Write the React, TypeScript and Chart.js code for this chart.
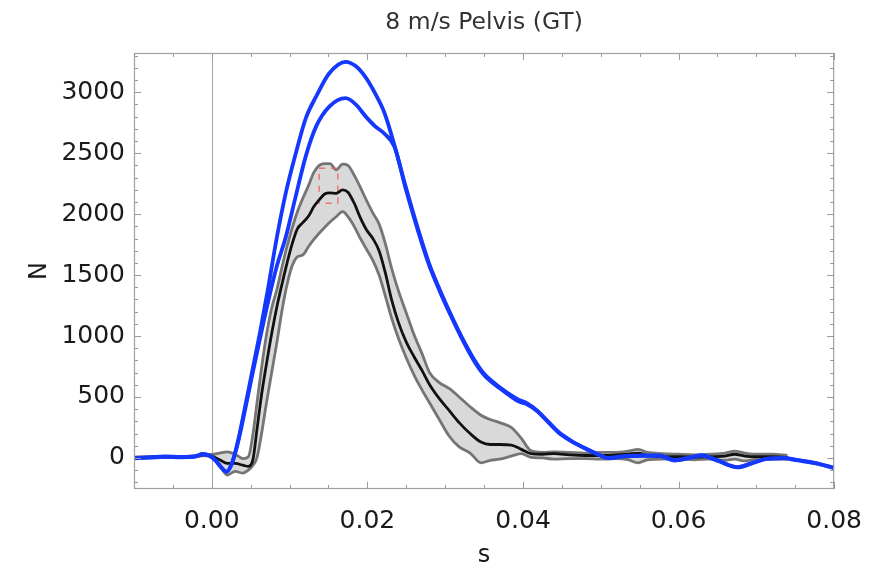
import React, { useEffect, useRef } from "react";
import { Chart, registerables } from "chart.js";

Chart.register(...registerables);

// ---- data ----
const chartTitle = "8 m/s Pelvis (GT)";
const xAxisTitle = "s";
const yAxisTitle = "N";

const xTickValues = [0, 0.02, 0.04, 0.06, 0.08];
const yTickValues = [0, 500, 1000, 1500, 2000, 2500, 3000];

// blue simulation curves
const blueTime = [
  -0.010, -0.008, -0.006, -0.004, -0.002, -0.0012, -0.0003, 0.0005, 0.0012, 0.0019,
  0.0026, 0.0033, 0.0040, 0.0051, 0.0062, 0.0072, 0.0083, 0.0095, 0.0108, 0.0121,
  0.0134, 0.0151, 0.0172, 0.0185, 0.0198, 0.0210, 0.0222, 0.0235, 0.0249, 0.0265,
  0.0279, 0.0293, 0.0307, 0.0321, 0.0336, 0.0350, 0.0365, 0.0380, 0.0395, 0.0405,
  0.0418, 0.0432, 0.0446, 0.0462, 0.0478, 0.0495, 0.0510, 0.0530, 0.0552, 0.0575,
  0.0595, 0.0612, 0.0629, 0.0650, 0.0676, 0.0695, 0.0714, 0.0735, 0.0753, 0.0775,
  0.0800,
];
const blueHigh = [
  0, 5, 12, 8, 15, 33, 20, -20, -75, -112,
  -40, 120, 330, 680, 1030, 1378, 1788, 2170, 2500, 2790,
  2964, 3156, 3250, 3215, 3120, 2990, 2830, 2560, 2230, 1880,
  1600, 1380, 1180, 995, 820, 690, 605, 535, 475, 450,
  390, 300, 210, 140, 85, 35, 0, 15, 20, 20,
  -18, 0, 22, -20, -75, -40, -5, 0, -18, -40,
  -80,
];
const blueLow = [
  -3, 2, 9, 5, 12, 30, 17, -23, -78, -115,
  -45, 110, 310, 650, 980, 1270, 1560, 1810, 2150, 2480,
  2718, 2882, 2951, 2900, 2800, 2720, 2660, 2550, 2215, 1865,
  1588, 1368, 1170, 985, 808, 680, 595, 525, 462, 440,
  385, 296, 206, 137, 82, 32, -3, 12, 17, 17,
  -21, -3, 19, -23, -78, -43, -8, -3, -21, -43,
  -83,
];

// experimental corridor (grey band + black mean)
const bandTime = [
  -0.010, -0.007, -0.004, -0.002, -0.001, 0.000, 0.001, 0.002, 0.003, 0.004,
  0.0047, 0.0053, 0.0058, 0.0064, 0.0070, 0.0077, 0.0084, 0.0090, 0.0096, 0.0103,
  0.0110, 0.0117, 0.0124, 0.0131, 0.0138, 0.0145, 0.0152, 0.0160, 0.0168, 0.0175,
  0.0183, 0.0191, 0.0199, 0.0207, 0.0215, 0.0223, 0.0231, 0.0240, 0.0250, 0.0260,
  0.0270, 0.0280, 0.0292, 0.0305, 0.0318, 0.0332, 0.0346, 0.0358, 0.0370, 0.0385,
  0.0398, 0.0410, 0.0425, 0.0440, 0.0460, 0.0480, 0.0500, 0.0520, 0.0535, 0.0548,
  0.0560, 0.0580, 0.0600, 0.0620, 0.0640, 0.0660, 0.0672, 0.0685, 0.0700, 0.0720,
  0.0740,
];
const bandMean = [
  3, 8, 8, 14, 25, 15, -15, -45, -45, -60,
  -70, -10, 230, 520, 760, 1020, 1250, 1420, 1580, 1750,
  1880, 1930, 1980, 2060, 2117, 2165, 2175, 2170, 2199, 2180,
  2090, 1970, 1870, 1800, 1700, 1520, 1300, 1110, 950, 830,
  720, 600, 490, 390, 290, 200, 130, 110, 110, 105,
  70, 35, 30, 35, 25, 20, 20, 25, 30, 40,
  20, 10, 10, 5, 10, 15, 30, 15, 10, 10,
  5,
];
const bandUpper = [
  6, 10, 11, 17, 30, 28, 40, 50, 30, -5,
  10, 200, 450, 740, 1000, 1230, 1390, 1560, 1720, 1880,
  2020, 2130, 2230, 2340, 2400, 2415, 2415, 2363, 2410, 2400,
  2320, 2220, 2110, 2010, 1920, 1760, 1560, 1370, 1190, 1010,
  860, 700, 620, 570, 500, 420, 350, 315, 290, 250,
  160, 60, 45, 50, 45, 40, 45, 45, 55, 70,
  45, 35, 30, 25, 30, 40, 55, 40, 30, 30,
  20,
];
const bandLower = [
  0, 4, 6, 11, 20, 5, -60, -140, -110, -125,
  -100, -60, 0, 200, 440, 700, 960, 1200, 1400, 1570,
  1650, 1665, 1730, 1790, 1843, 1890, 1935, 1979, 2021, 1980,
  1900, 1800, 1710, 1620, 1500, 1330, 1150, 980, 820, 680,
  560, 450, 320, 180, 90, 40, -40, -20, -10, 15,
  35, 5, 0, -10, -5, -5, -10, -5, -15, -40,
  -15, -10, -10, -15, -10, -20, -10, -25, -10, -10,
  -10,
];

// red dashed peak box
const peakBoxTime = [0.0138, 0.0162, 0.0162, 0.0138, 0.0138];
const peakBoxForce = [2377, 2377, 2089, 2089, 2377];

const toPoints = (xs: number[], ys: number[]) => xs.map((x, i) => ({ x, y: ys[i] }));

const FONT = "'DejaVu Sans', 'Liberation Sans', sans-serif";

const framePlugin = {
  id: "mmaFrame",
  beforeDatasetsDraw(chart: any) {
    const { ctx, chartArea: a, scales } = chart;
    const px = Math.round(scales.x.getPixelForValue(0)) + 0.5;
    ctx.save();
    ctx.strokeStyle = "#a8a8a8";
    ctx.lineWidth = 1;
    ctx.beginPath();
    ctx.moveTo(px, a.top);
    ctx.lineTo(px, a.bottom);
    ctx.stroke();
    ctx.restore();
  },
  afterDraw(chart: any) {
    const { ctx, chartArea: a, scales } = chart;
    const x = scales.x;
    const y = scales.y;
    ctx.save();
    // title centred over the plot frame
    ctx.fillStyle = "#333333";
    ctx.font = `23.5px ${FONT}`;
    ctx.textAlign = "center";
    ctx.textBaseline = "middle";
    ctx.fillText(chartTitle, (a.left + a.right) / 2, 23);
    // frame
    ctx.strokeStyle = "#a0a0a0";
    ctx.lineWidth = 1.2;
    ctx.strokeRect(a.left + 0.5, a.top + 0.5, a.right - a.left - 1, a.bottom - a.top - 1);
    // inward ticks on all four sides
    ctx.strokeStyle = "#9a9a9a";
    ctx.lineWidth = 1;
    ctx.beginPath();
    for (let k = -2; k <= 16; k++) {
      const v = k * 0.005;
      const p = Math.round(x.getPixelForValue(v)) + 0.5;
      const major = k % 4 === 0;
      const len = major ? 7 : 4;
      ctx.moveTo(p, a.bottom);
      ctx.lineTo(p, a.bottom - len);
      ctx.moveTo(p, a.top);
      ctx.lineTo(p, a.top + len);
    }
    for (let k = -2; k <= 33; k++) {
      const v = k * 100;
      const p = Math.round(y.getPixelForValue(v)) + 0.5;
      if (p < a.top || p > a.bottom) continue;
      const major = k % 5 === 0;
      const len = major ? 7 : 4;
      ctx.moveTo(a.left, p);
      ctx.lineTo(a.left + len, p);
      ctx.moveTo(a.right, p);
      ctx.lineTo(a.right - len, p);
    }
    ctx.stroke();
    ctx.restore();
  },
};

export default function App() {
  const canvasRef = useRef<HTMLCanvasElement | null>(null);

  useEffect(() => {
    if (!canvasRef.current) return;
    const line = (data: any, color: string, width: number, order: number, extra: any = {}) => ({
      data,
      borderColor: color,
      backgroundColor: color,
      borderWidth: width,
      pointRadius: 0,
      cubicInterpolationMode: "monotone",
      order,
      ...extra,
    });

    const chart = new Chart(canvasRef.current, {
      type: "line",
      data: {
        datasets: [
          line(toPoints(blueTime, blueHigh), "#1538ff", 3.8, 0),
          line(toPoints(blueTime, blueLow), "#1538ff", 3.8, 0),
          line(toPoints(peakBoxTime, peakBoxForce), "rgba(240,90,90,0.8)", 1.5, 2, {
            borderDash: [6, 6],
            cubicInterpolationMode: "default",
            tension: 0,
          }),
          line(toPoints(bandTime, bandMean), "#111111", 2.8, 1),
          line(toPoints(bandTime, bandUpper), "rgba(100,100,100,0.88)", 2.8, 4, {
            fill: "+1",
            backgroundColor: "#d9d9d9",
          }),
          line(toPoints(bandTime, bandLower), "rgba(100,100,100,0.88)", 2.8, 3),
        ],
      },
      options: {
        animation: false,
        responsive: true,
        maintainAspectRatio: false,
        layout: { padding: { top: 53, right: 41, bottom: 0, left: 0 } },
        plugins: {
          legend: { display: false },
          tooltip: { enabled: false },
          title: { display: false },
        },
        scales: {
          x: {
            type: "linear",
            min: -0.01,
            max: 0.08,
            afterBuildTicks: (s: any) => {
              s.ticks = xTickValues.map((v) => ({ value: v }));
            },
            afterFit: (s: any) => {
              s.height = 77;
            },
            ticks: {
              callback: (v: any) => Number(v).toFixed(2),
              color: "#1a1a1a",
              font: { family: FONT, size: 25 },
              padding: 17,
              maxRotation: 0,
              autoSkip: false,
            },
            grid: { drawOnChartArea: false, drawTicks: false },
            border: { display: false },
            title: {
              display: true,
              text: xAxisTitle,
              color: "#1a1a1a",
              font: { family: FONT, size: 24 },
              padding: { top: 0, bottom: -4 },
            },
          },
          y: {
            type: "linear",
            min: -255,
            max: 3322,
            afterBuildTicks: (s: any) => {
              s.ticks = yTickValues.map((v) => ({ value: v }));
            },
            afterFit: (s: any) => {
              s.width = 134;
            },
            ticks: {
              callback: (v: any) => String(v),
              color: "#1a1a1a",
              font: { family: FONT, size: 25 },
              padding: 9,
              autoSkip: false,
            },
            grid: { drawOnChartArea: false, drawTicks: false },
            border: { display: false },
            title: {
              display: true,
              text: yAxisTitle,
              color: "#1a1a1a",
              font: { family: FONT, size: 24 },
              padding: { top: 25, bottom: 0 },
            },
          },
        },
      },
      plugins: [framePlugin],
    } as any);
    return () => chart.destroy();
  }, []);

  return (
    <div style={{ position: "absolute", left: 0, top: 0, width: 879, height: 566, background: "#fff" }}>
      <canvas ref={canvasRef} />
    </div>
  );
}
